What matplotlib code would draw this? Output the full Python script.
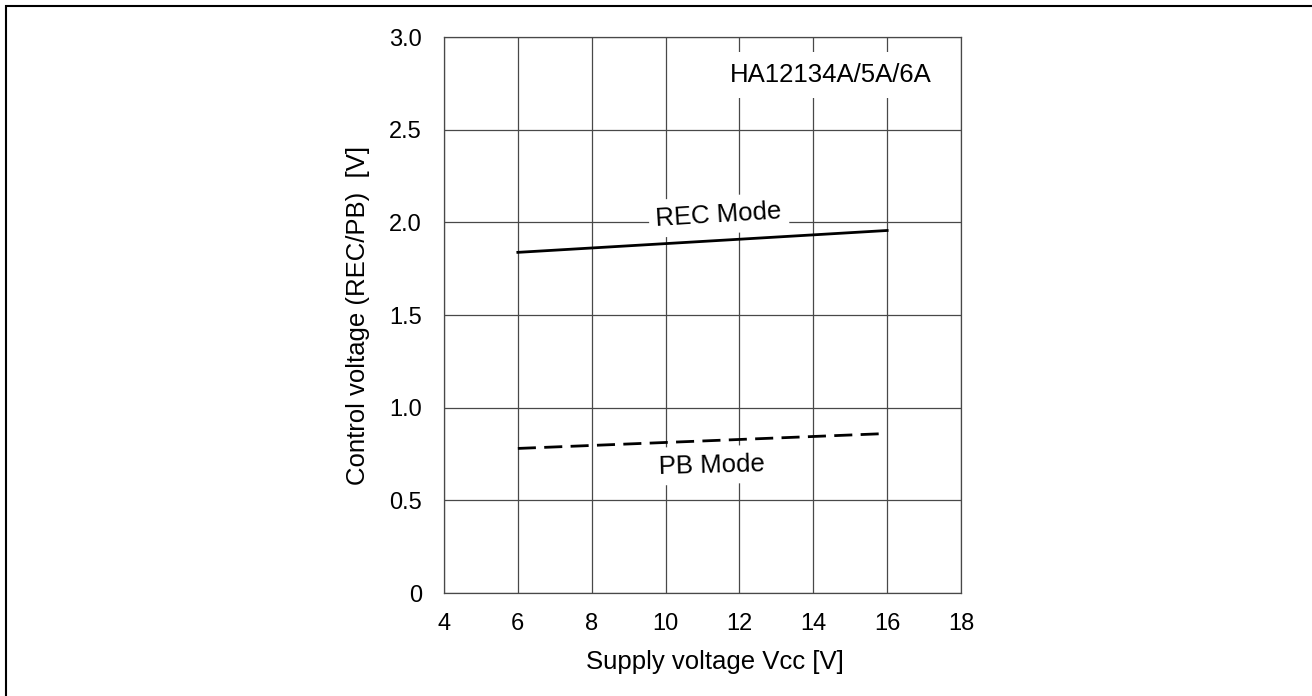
import matplotlib.pyplot as plt
import matplotlib.patches as patches

plt.rcParams['font.family'] = ['Liberation Sans', 'DejaVu Sans']

# data
vcc = [6, 16]
rec_mode = [1.838, 1.956]
pb_vcc = [6, 15.8]
pb_mode = [0.78, 0.859]
x_ticks = [4, 6, 8, 10, 12, 14, 16, 18]
y_ticks = [0, 0.5, 1.0, 1.5, 2.0, 2.5, 3.0]
y_labels = ['0', '0.5', '1.0', '1.5', '2.0', '2.5', '3.0']

W, H = 1312, 696
fig = plt.figure(figsize=(W / 100, H / 100), dpi=100)
# axes box in pixels: left 444, right 961, top 37, bottom 593
ax = fig.add_axes([444 / W, 1 - 593 / H, (961 - 444) / W, (593 - 37) / H])

# outer frame (only top and left edges fall inside the image)
fig.patches.append(patches.Rectangle((6 / W, -0.1), 1.2, 1 - 6 / H + 0.1,
                                     transform=fig.transFigure, fill=False,
                                     edgecolor='black', linewidth=1.5))

ax.plot(vcc, rec_mode, color='black', linewidth=2.0, zorder=3)
ax.plot(pb_vcc, pb_mode, color='black', linewidth=2.0, dashes=(6.5, 3), zorder=3)

ax.set_xlim(4, 18)
ax.set_ylim(0, 3)
ax.set_xticks(x_ticks)
ax.set_yticks(y_ticks)
ax.set_yticklabels(y_labels)
ax.tick_params(length=0, labelsize=17)
ax.tick_params(axis='x', pad=14.5)
ax.tick_params(axis='y', pad=16)
ax.grid(True, color='#484848', linewidth=0.9)
ax.set_axisbelow(True)
for s in ax.spines.values():
    s.set_color('#484848')
    s.set_linewidth(0.9)

ax.set_xlabel('Supply voltage Vcc [V]', fontsize=18.5)
ax.xaxis.set_label_coords(0.525, -0.103)
ax.set_ylabel('Control voltage (REC/PB)  [V]', fontsize=18.5)
ax.yaxis.set_label_coords(-0.144, 0.5)

box = dict(facecolor='white', edgecolor='none', pad=5)
ax.text(14.46, 2.794, 'HA12134A/5A/6A', fontsize=18.5, ha='center', va='center',
        bbox=dict(facecolor='white', edgecolor='none', pad=8), zorder=4)
ax.text(11.44, 2.04, 'REC Mode', fontsize=18.5, ha='center', va='center',
        rotation=3.5, rotation_mode='anchor', bbox=box, zorder=4)
ax.text(11.24, 0.69, 'PB Mode', fontsize=18.5, ha='center', va='center',
        rotation=1.5, rotation_mode='anchor', bbox=box, zorder=4)

fig.savefig('out.png', dpi=100)
